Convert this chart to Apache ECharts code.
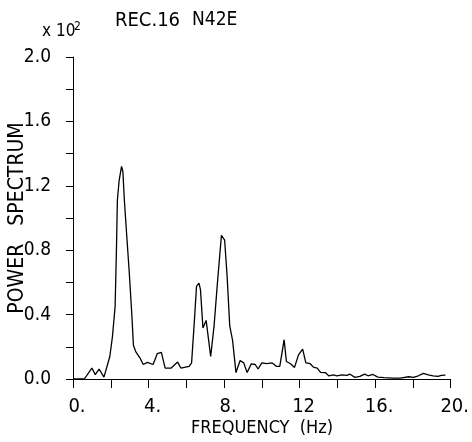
<!DOCTYPE html>
<html>
<head>
<meta charset="utf-8">
<script src="https://cdn.jsdelivr.net/npm/echarts@6/dist/echarts.min.js"></script>
<style>
  html, body { margin: 0; padding: 0; background: #fff; }
  #chart { width: 472px; height: 442px; }
</style>
</head>
<body>
<div id="chart"></div>
<script>
// 频率 (Hz)
const freq = [
  0.0, 0.6, 1.0, 1.18, 1.38, 1.64, 1.72, 1.95, 2.09, 2.23, 2.3, 2.35, 2.44, 2.57, 2.64, 2.72,
  2.86, 2.98, 3.12, 3.2, 3.32, 3.55, 3.72, 3.94, 4.24, 4.46, 4.68, 4.88, 5.2, 5.54, 5.71,
  6.15, 6.28, 6.41, 6.54, 6.67, 6.75, 6.88, 7.05, 7.29, 7.47, 7.65, 7.86, 8.03, 8.16, 8.3,
  8.45, 8.63, 8.85, 9.04, 9.22, 9.44, 9.65, 9.8, 10.0, 10.25, 10.55, 10.78, 10.95, 11.18,
  11.3, 11.52, 11.73, 11.94, 12.16, 12.33, 12.56, 12.73, 12.93, 13.11, 13.36, 13.54, 13.8,
  13.97, 14.23, 14.5, 14.67, 14.93, 15.19, 15.45, 15.62, 15.88, 16.14, 16.48, 16.91, 17.34,
  17.77, 18.03, 18.29, 18.55, 18.81, 19.07, 19.33, 19.5, 19.72
]
// 功率谱 (x 10^2)
const power = [
  0, 0, 0.068, 0.027, 0.062, 0.012, 0.01, 0.14, 0.265, 0.45, 0.8, 1.11, 1.23, 1.32, 1.29, 1.11,
  0.865, 0.66, 0.39, 0.21, 0.17, 0.13, 0.09, 0.103, 0.09, 0.157, 0.165, 0.068, 0.068, 0.105, 0.068,
  0.078, 0.1, 0.33, 0.575, 0.596, 0.555, 0.317, 0.364, 0.14, 0.33, 0.6, 0.893, 0.862, 0.64, 0.33,
  0.24, 0.04, 0.115, 0.1, 0.04, 0.094, 0.09, 0.062, 0.1, 0.095, 0.1, 0.078, 0.078, 0.244,
  0.109, 0.095, 0.072, 0.15, 0.186, 0.1, 0.095, 0.074, 0.068, 0.041, 0.04, 0.02, 0.025,
  0.02, 0.025, 0.022, 0.03, 0.01, 0.016, 0.03, 0.02, 0.028, 0.012, 0.008, 0.006, 0.006,
  0.014, 0.01, 0.02, 0.035, 0.025, 0.02, 0.016, 0.022, 0.024
]
// 刻度标签
const xTickLabels = { 0: '0.', 4: '4.', 8: '8.', 12: '12', 16: '16.', 20: '20.' }
const yTickLabels = { 0: '0.0', 4: '0.4', 8: '0.8', 12: '1.2', 16: '1.6', 20: '2.0' }

const FONT = "'Liberation Sans Narrow', 'DejaVu Sans Condensed', 'Liberation Sans', sans-serif"

const chart = echarts.init(document.getElementById('chart'), null, { renderer: 'canvas' })

chart.setOption({
  animation: false,
  backgroundColor: '#fff',
  grid: { left: 73, right: 12, top: 57, bottom: 63 },
  xAxis: {
    type: 'value',
    min: 0,
    max: 20,
    interval: 2,
    axisLine: { lineStyle: { color: '#000', width: 1 } },
    axisTick: { show: true, length: 9, lineStyle: { color: '#000' } },
    splitLine: { show: false },
    axisLabel: {
      margin: 18,
      color: '#000',
      fontFamily: FONT,
      fontSize: 20,
      padding: [0, 0, 0, 8],
      formatter: (v) => xTickLabels[Math.round(v)] || '',
    },
  },
  yAxis: {
    type: 'value',
    min: 0,
    max: 2.0,
    interval: 0.2,
    axisLine: { show: true, lineStyle: { color: '#000', width: 1 } },
    axisTick: { show: true, length: 7, lineStyle: { color: '#000' } },
    splitLine: { show: false },
    axisLabel: {
      margin: 22,
      color: '#000',
      fontFamily: FONT,
      fontSize: 19,
      formatter: (v) => yTickLabels[Math.round(v * 10)] || '',
    },
  },
  graphic: [
    { type: 'text', left: 115, top: 11, style: { text: 'REC.16', fill: '#000', font: '20px ' + FONT } },
    { type: 'text', left: 192, top: 11, style: { text: 'N42E', fill: '#000', font: '19px ' + FONT } },
    { type: 'text', left: 42, top: 23, style: { text: 'x 10', fill: '#000', font: '17px ' + FONT } },
    { type: 'text', left: 74, top: 21, style: { text: '2', fill: '#000', font: '12px ' + FONT } },
    {
      type: 'text', x: 18, y: 218, rotation: Math.PI / 2,
      style: { text: 'POWER   SPECTRUM', fill: '#000', font: '21px ' + FONT, textAlign: 'center', textVerticalAlign: 'middle' },
    },
    {
      type: 'text', x: 262, y: 428,
      style: { text: 'FREQUENCY  (Hz)', fill: '#000', font: '18px ' + FONT, textAlign: 'center', textVerticalAlign: 'middle' },
    },
  ],
  series: [
    {
      type: 'line',
      data: freq.map((f, i) => [f, power[i]]),
      showSymbol: false,
      smooth: false,
      lineStyle: { color: '#000', width: 1.3 },
    },
  ],
})
</script>
</body>
</html>
